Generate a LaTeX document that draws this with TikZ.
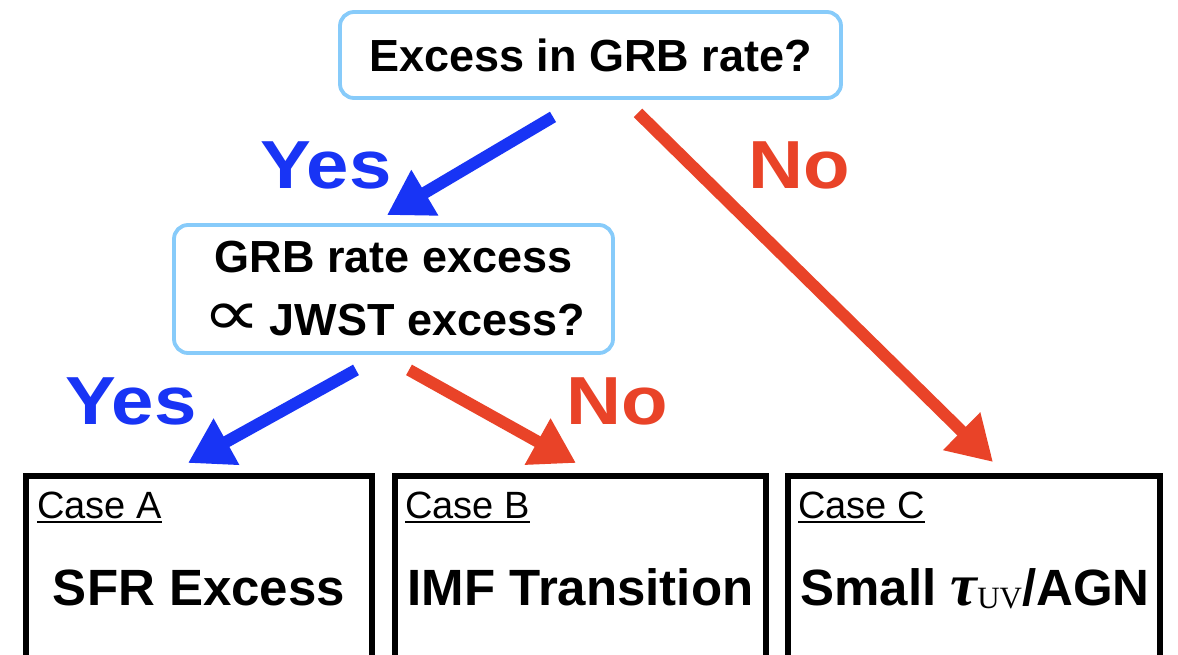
\documentclass[tikz,border=0pt]{standalone}
\usepackage{graphicx}
\usepackage{fontspec}
\setmainfont{Liberation Sans}
\newfontfamily\greekserif{Liberation Serif}
\newfontfamily\propfont{DejaVu Sans}
\usetikzlibrary{arrows.meta}
\definecolor{yescol}{RGB}{24,52,245}
\definecolor{nocol}{RGB}{233,67,40}
\definecolor{qborder}{RGB}{135,203,250}

\begin{document}
\begin{tikzpicture}[x=1pt,y=-1pt,
  question/.style={draw=qborder, line width=3.8pt, rounded corners=14pt, inner sep=0pt,
    font=\fontsize{45}{63}\selectfont\bfseries, align=center},
  casebox/.style={draw=black, line width=6pt, minimum height=260pt, anchor=north, inner sep=0pt},
  caselabel/.style={anchor=base west, inner sep=0pt, font=\fontsize{38}{40}\selectfont},
  underl/.style={line width=2pt},
  outcome/.style={anchor=base, inner sep=0pt, font=\fontsize{51}{60}\selectfont\bfseries},
  answer/.style={anchor=base west, inner sep=0pt, font=\fontsize{68}{80}\selectfont\bfseries},
  flow/.style={line width=12pt, -{Triangle[length=44pt,width=50pt]}},
]
\useasboundingbox[fill=white] (0,0) rectangle (1178,654);

% question boxes
\node[question, minimum width=501pt, minimum height=86pt] (q1) at (590.5,55) {Excess in GRB rate?};
\node[question, minimum width=439pt, minimum height=128pt] (q2) at (393.5,289)
  {GRB rate excess\\\scalebox{1.65}[1.3]{\propfont\mdseries\fontsize{50}{63}\selectfont ∝}\hspace{-4pt} JWST excess?};

% outcome boxes
\node[casebox, minimum width=346pt] (caseA) at (199,473) {};
\node[casebox, minimum width=371pt] (caseB) at (580.5,473) {};
\node[casebox, minimum width=372pt] (caseC) at (974,473) {};

\node[caselabel] (labA) at (37,518) {Case A};
\node[caselabel] (labB) at (405,518) {Case B};
\node[caselabel] (labC) at (798,518) {Case C};
\draw[underl] ([yshift=-4pt]labA.base west) -- ([yshift=-4pt]labA.base east);
\draw[underl] ([yshift=-4pt]labB.base west) -- ([yshift=-4pt]labB.base east);
\draw[underl] ([yshift=-4pt]labC.base west) -- ([yshift=-4pt]labC.base east);

\node[outcome] (outA) at (199,605) {SFR Excess};
\node[outcome] (outB) at (580.5,605) {IMF Transition};
\node[outcome] (outC) at (975,605) {Small {\greekserif\bfseries\itshape\fontsize{60}{60}\selectfont τ}\raisebox{-3pt}{\greekserif\mdseries\fontsize{31}{32}\selectfont UV}/AGN};

% decision arrows
\draw[flow, yescol] ([shift={(-37.5,17)}]q1.south) -- ([shift={(-6.5,-8)}]q2.north);
\draw[flow, nocol] ([shift={(47.5,13)}]q1.south) -- ([shift={(19,-11)}]caseC.north);
\draw[flow, yescol] ([shift={(-37.5,15)}]q2.south) -- ([shift={(-11,-10)}]caseA.north);
\draw[flow, nocol] ([shift={(15.5,15)}]q2.south) -- ([shift={(-4.5,-10)}]caseB.north);

% answer labels
\node[answer, text=yescol] (yes1) at (260,188) {\scalebox{1.12}[1]{Yes}};
\node[answer, text=nocol] (no1) at (748,188) {\scalebox{1.12}[1]{No}};
\node[answer, text=yescol] (yes2) at (65,424) {\scalebox{1.12}[1]{Yes}};
\node[answer, text=nocol] (no2) at (566,424) {\scalebox{1.12}[1]{No}};
\end{tikzpicture}
\end{document}
